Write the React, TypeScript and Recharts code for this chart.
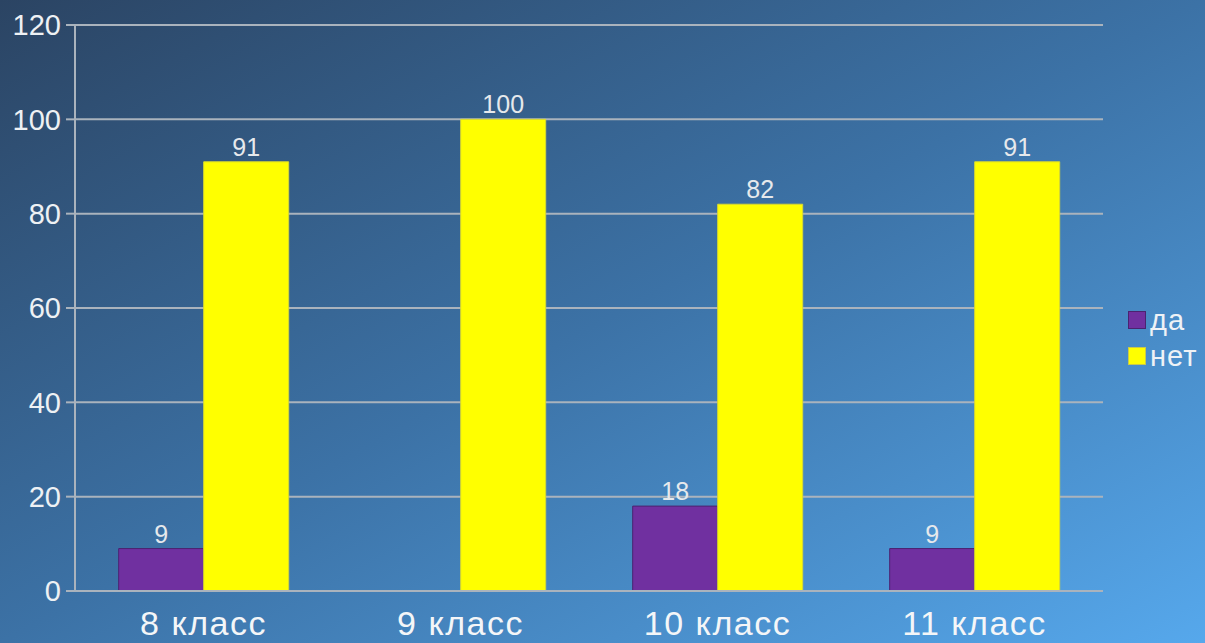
import React from 'react';
import { BarChart, Bar, XAxis, YAxis, CartesianGrid, Legend, LabelList } from 'recharts';

const categories = ['8 класс', '9 класс', '10 класс', '11 класс'];
const daValues = [9, 0, 18, 9];
const netValues = [91, 100, 82, 91];
const yTicks = [0, 20, 40, 60, 80, 100, 120];

const data = categories.map((c, i) => ({ name: c, da: daValues[i], net: netValues[i] }));

const font = '"Liberation Sans", Arial, sans-serif';

const renderLegend = () => (
  <div style={{ fontFamily: font, fontSize: 29, color: '#eef2f6', lineHeight: '36px', letterSpacing: 1 }}>
    {[
      { label: 'да', color: '#7030a0', border: '#4b2270' },
      { label: 'нет', color: '#ffff00', border: '#c9c94a' },
    ].map((it) => (
      <div key={it.label} style={{ display: 'flex', alignItems: 'center' }}>
        <span
          style={{
            display: 'inline-block',
            width: 16,
            height: 16,
            background: it.color,
            border: `1px solid ${it.border}`,
            marginRight: 4,
          }}
        />
        <span>{it.label}</span>
      </div>
    ))}
  </div>
);

export default function App() {
  return (
    <div
      style={{
        position: 'absolute',
        left: 0,
        top: 0,
        width: 1205,
        height: 643,
        background: 'linear-gradient(to bottom right, #2b4463 0%, #3c72a6 50%, #56a8ec 100%)',
      }}
    >
      <BarChart
        width={1205}
        height={643}
        data={data}
        margin={{ top: 25, right: 102, left: 0, bottom: 0 }}
        barCategoryGap="17%"
        barGap={0}
      >
        <CartesianGrid vertical={false} stroke="#aab3bd" strokeWidth={2} />
        <XAxis
          dataKey="name"
          axisLine={{ stroke: '#aab3bd', strokeWidth: 2 }}
          tickLine={false}
          tick={{ fill: '#f4f6f8', fontSize: 34, fontFamily: font, letterSpacing: 1.5 }}
          tickMargin={14}
          height={52}
        />
        <YAxis
          domain={[0, 120]}
          ticks={yTicks}
          width={75}
          axisLine={{ stroke: '#aab3bd', strokeWidth: 2 }}
          tickLine={{ stroke: '#aab3bd', strokeWidth: 2 }}
          tickSize={9}
          tickMargin={5}
          tick={{ fill: '#eef1f4', fontSize: 29, fontFamily: font }}
        />
        <Legend
          layout="horizontal"
          align="center"
          verticalAlign="middle"
          content={renderLegend}
          wrapperStyle={{ left: 1128, top: 302, width: 80 }}
        />
        <Bar dataKey="da" fill="#7030a0" stroke="#4b2270" strokeWidth={1} isAnimationActive={false}>
          <LabelList
            dataKey="da"
            position="top"
            offset={6}
            fill="#e6e9ec"
            fontSize={25}
            fontFamily={font}
            formatter={(v: any) => (v === 0 ? '' : v)}
          />
        </Bar>
        <Bar dataKey="net" fill="#ffff00" stroke="#d8d830" strokeWidth={1} isAnimationActive={false}>
          <LabelList
            dataKey="net"
            position="top"
            offset={6}
            fill="#e6e9ec"
            fontSize={25}
            fontFamily={font}
          />
        </Bar>
      </BarChart>
    </div>
  );
}
